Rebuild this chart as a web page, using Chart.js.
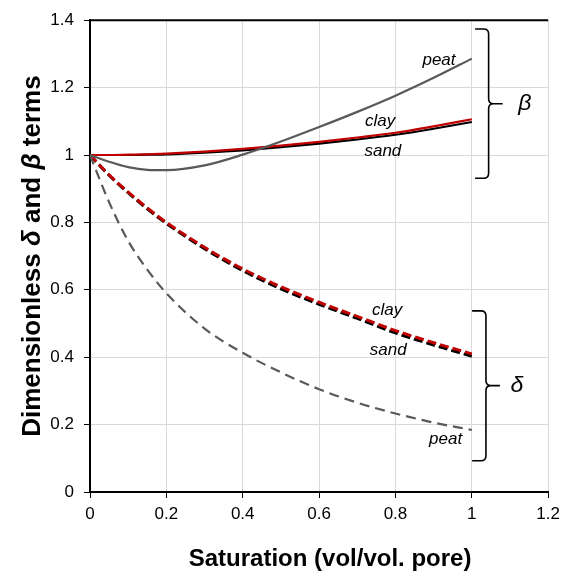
<!DOCTYPE html>
<html><head><meta charset="utf-8">
<script src="https://cdn.jsdelivr.net/npm/chart.js@4.4.0/dist/chart.umd.min.js"></script>
<style>html,body{margin:0;padding:0;background:#fff}#wrap{width:566px;height:576px}</style>
</head><body><div id="wrap"><canvas id="c" width="566" height="576"></canvas></div>
<script>
// ---- data ----
const saturation = [0, 0.05, 0.1, 0.15, 0.2, 0.3, 0.4, 0.5, 0.6, 0.7, 0.8, 0.9, 1.0];
const betaSand  = [1, 1.000, 1.000, 1.001, 1.002, 1.007, 1.014, 1.023, 1.034, 1.046, 1.060, 1.078, 1.098];
const betaClay  = [1, 1.000, 1.001, 1.002, 1.004, 1.010, 1.018, 1.028, 1.039, 1.052, 1.066, 1.085, 1.106];
const betaPeat  = [1, 0.980, 0.964, 0.956, 0.955, 0.969, 1.001, 1.040, 1.083, 1.128, 1.176, 1.229, 1.286];
const deltaSand = [1, 0.940, 0.888, 0.840, 0.797, 0.722, 0.657, 0.603, 0.557, 0.515, 0.472, 0.436, 0.403];
const deltaClay = [1, 0.941, 0.890, 0.843, 0.800, 0.726, 0.662, 0.609, 0.563, 0.521, 0.479, 0.443, 0.410];
const deltaPeat = [1, 0.860, 0.745, 0.660, 0.590, 0.485, 0.413, 0.355, 0.305, 0.265, 0.233, 0.206, 0.184];
const xTickLabels = ['0', '0.2', '0.4', '0.6', '0.8', '1', '1.2'];
const yTickLabels = ['0', '0.2', '0.4', '0.6', '0.8', '1', '1.2', '1.4'];
const xTitle = 'Saturation (vol/vol. pore)';
const yTitleParts = [['Dimensionless ', false], ['δ', true], [' and ', false], ['β', true], [' terms', false]];
const soilNames = ['sand', 'clay', 'peat'];
const groupSymbols = ['β', 'δ'];

const FONT = "'Liberation Sans', Arial, sans-serif";
const pts = arr => saturation.map((x, i) => ({x: x, y: arr[i]}));

function ds(label, arr, color, width, dash) {
  return {label: label, data: pts(arr), borderColor: color, borderWidth: width,
    borderDash: dash || [], pointRadius: 0, fill: false, cubicInterpolationMode: 'monotone'};
}

function brace(ctx, xl, xv, xt, yTop, yMid, yBot) {
  const r = 5;
  ctx.beginPath();
  ctx.moveTo(xl, yTop);
  ctx.lineTo(xv - r, yTop);
  ctx.quadraticCurveTo(xv, yTop, xv, yTop + r);
  ctx.lineTo(xv, yMid - r);
  ctx.quadraticCurveTo(xv, yMid, xv + r, yMid);
  ctx.lineTo(xt, yMid);
  ctx.moveTo(xv + r, yMid);
  ctx.quadraticCurveTo(xv, yMid, xv, yMid + r);
  ctx.lineTo(xv, yBot - r);
  ctx.quadraticCurveTo(xv, yBot, xv - r, yBot);
  ctx.lineTo(xl, yBot);
  ctx.stroke();
}

const decor = {
  id: 'decor',
  afterDatasetsDraw(chart) {
    const ctx = chart.ctx, xs = chart.scales.x, ys = chart.scales.y, ca = chart.chartArea;
    const X = v => xs.getPixelForValue(v), Y = v => ys.getPixelForValue(v);
    ctx.save();
    // top border
    ctx.strokeStyle = '#000'; ctx.lineWidth = 2;
    ctx.beginPath(); ctx.moveTo(ca.left - 1, ca.top); ctx.lineTo(ca.right, ca.top); ctx.stroke();
    // curve labels
    ctx.fillStyle = '#000';
    ctx.font = 'italic 17px ' + FONT;
    ctx.textAlign = 'center'; ctx.textBaseline = 'alphabetic';
    const lab = [
      [soilNames[2], 0.914, 1.267], [soilNames[1], 0.760, 1.0865], [soilNames[0], 0.767, 0.9965],
      [soilNames[1], 0.778, 0.5246], [soilNames[0], 0.781, 0.4056], [soilNames[2], 0.9314, 0.1418]
    ];
    lab.forEach(l => ctx.fillText(l[0], X(l[1]), Y(l[2])));
    // braces
    ctx.lineWidth = 1.6; ctx.strokeStyle = '#000';
    brace(ctx, X(1.0086), X(1.044), X(1.081), Y(1.374), Y(1.152), Y(0.931));
    brace(ctx, X(1.0008), X(1.037), X(1.0735), Y(0.5375), Y(0.3157), Y(0.0929));
    ctx.font = 'italic 23px ' + FONT;
    ctx.textBaseline = 'middle';
    ctx.fillText(groupSymbols[0], X(1.139), Y(1.152));
    ctx.fillText(groupSymbols[1], X(1.118), Y(0.3157));
    // x-axis title
    ctx.font = 'bold 24px ' + FONT;
    ctx.textAlign = 'center'; ctx.textBaseline = 'alphabetic';
    ctx.fillText(xTitle, (ca.left + ca.right) / 2 + 11, 566);
    // y-axis title with italic greek letters
    ctx.translate(33, (ca.top + ca.bottom) / 2);
    ctx.rotate(-Math.PI / 2);
    ctx.textAlign = 'left'; ctx.textBaseline = 'middle';
    const fonts = yTitleParts.map(p => (p[1] ? 'italic bold 26px ' : 'bold 26px ') + FONT);
    let total = 0;
    yTitleParts.forEach((p, i) => { ctx.font = fonts[i]; total += ctx.measureText(p[0]).width; });
    let cx = -total / 2;
    yTitleParts.forEach((p, i) => { ctx.font = fonts[i]; ctx.fillText(p[0], cx, 0); cx += ctx.measureText(p[0]).width; });
    ctx.restore();
  }
};

new Chart(document.getElementById('c'), {
  type: 'line',
  data: {
    datasets: [
      ds('Peat β', betaPeat, '#595959', 2.2),
      ds('Clay β', betaClay, '#C00000', 2.2),
      ds('Sand β', betaSand, '#000000', 2.2),
      ds('Peat δ', deltaPeat, '#595959', 2.2, [10, 6]),
      ds('Clay δ', deltaClay, '#C00000', 3, [9, 4]),
      ds('Sand δ', deltaSand, '#000000', 3, [9, 4])
    ]
  },
  options: {
    responsive: false, animation: false, devicePixelRatio: 1,
    layout: {padding: {top: 14, right: 13, left: 0, bottom: 0}},
    plugins: {legend: {display: false}, tooltip: {enabled: false}},
    scales: {
      x: {
        type: 'linear', min: 0, max: 1.2,
        afterFit: s => { s.height = 84; },
        ticks: {stepSize: 0.2, padding: 6, color: '#000', font: {family: FONT, size: 17},
          callback: v => xTickLabels[Math.round(v / 0.2)]},
        grid: {color: '#d9d9d9', lineWidth: 1, tickColor: '#000', tickLength: 6, drawTicks: true},
        border: {display: true, color: '#000', width: 2},
        title: {display: false, text: xTitle}
      },
      y: {
        type: 'linear', min: 0, max: 1.4,
        afterFit: s => { s.width = 90; },
        ticks: {stepSize: 0.2, padding: 10, color: '#000', font: {family: FONT, size: 17},
          callback: v => yTickLabels[Math.round(v / 0.2)]},
        grid: {color: '#d9d9d9', lineWidth: 1, tickColor: '#000', tickLength: 6, drawTicks: true},
        border: {display: true, color: '#000', width: 2},
        title: {display: false, text: 'Dimensionless δ and β terms'}
      }
    }
  },
  plugins: [decor]
});
</script></body></html>
